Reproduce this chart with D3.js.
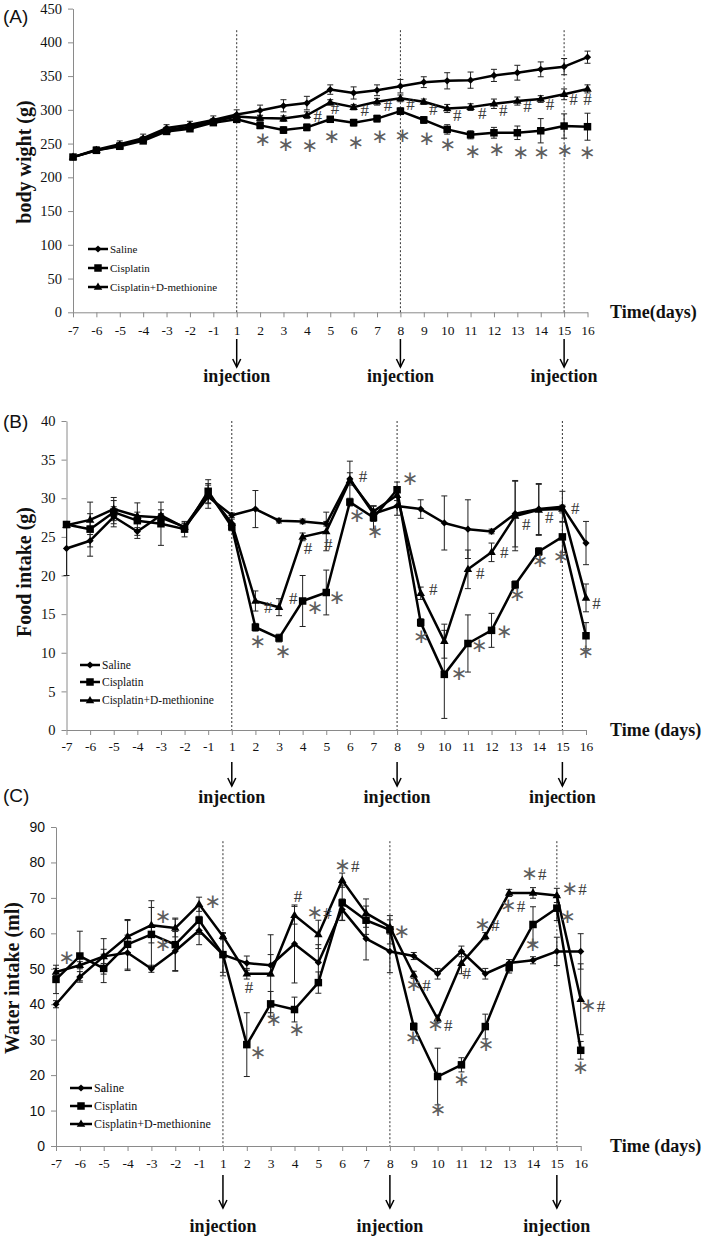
<!DOCTYPE html>
<html><head><meta charset="utf-8">
<script src="https://cdn.jsdelivr.net/npm/d3@7"></script>
<style>body{margin:0;background:#fff}</style>
</head><body>
<svg id="c" width="709" height="1239" xmlns="http://www.w3.org/2000/svg"></svg>
<script>
// ---------- categories ----------
const days = [-7,-6,-5,-4,-3,-2,-1,1,2,3,4,5,6,7,8,9,10,11,12,13,14,15,16];
const injectionDays = [1, 8, 15];
const seriesNames = ["Saline", "Cisplatin", "Cisplatin+D-methionine"];

// ---------- (A) body weight ----------
const weightTicks = [0,50,100,150,200,250,300,350,400,450];
const weightSaline    = [230,241,249,258,273,278,285,293,299,306,310,330,325,329,335,341,343,344,351,355,360,364,378];
const weightCisplatin = [230,240,246,254,268,272,281,286,277,270,274,286,281,287,298,285,271,263,266,266,269,276,275];
const weightCisDmet   = [230,240,247,256,270,275,283,290,288,287,292,311,304,312,317,312,302,304,309,313,316,323,331];
const weightSalineErr    = [3,4,5,6,5,5,6,7,8,9,10,7,9,8,10,8,12,12,9,11,11,12,9];
const weightCisplatinErr = [3,4,4,4,4,4,4,5,5,5,5,4,5,5,5,5,7,6,8,10,18,18,20];
const weightCisDmetErr   = [3,3,4,4,4,4,4,4,4,4,5,4,4,5,5,4,6,5,7,6,5,8,6];
// [day, shift (in category steps), value, label]
const weightMarks = [
  [2,0.12,255,"*"],[3,0.1,248,"*"],[4,0.13,246,"*"],[5,0.07,260,"*"],[6,0.1,251,"*"],
  [7,0.12,260,"*"],[8,0.1,261,"*"],[9,0.13,257,"*"],[10,0.03,248,"*"],[11,0.1,237,"*"],
  [12,0.12,240,"*"],[13,0.15,236,"*"],[14,0.04,236,"*"],[15,0.03,239,"*"],[16,0,236,"*"],
  [4,0.47,291,"#"],[5,0.2,303,"#"],[6,0.47,300,"#"],[7,0.47,307,"#"],[8,0.43,309,"#"],
  [9,0.4,301,"#"],[10,0.43,292,"#"],[11,0.5,295,"#"],[12,0.4,300,"#"],[13,0.43,306,"#"],
  [14,0.4,309,"#"],[15,0.4,316,"#"],[16,0,316,"#"]
];

// ---------- (B) food intake ----------
const foodTicks = [0,5,10,15,20,25,30,35,40];
const foodSaline    = [23.5,24.5,27.6,25.7,27.8,26.2,30.2,27.8,28.6,27.1,27.0,26.7,32.5,28.0,29.0,28.6,26.8,26.0,25.7,28.0,28.6,28.9,24.2];
const foodCisplatin = [26.6,26.0,28.2,27.1,26.7,26.0,30.9,26.3,13.3,11.9,16.7,17.8,29.5,27.5,31.1,13.9,7.2,11.2,12.9,18.8,23.1,25.0,12.2];
const foodCisDmet   = [26.5,27.2,28.6,27.7,27.5,26.3,30.6,26.8,16.7,15.9,25.0,25.7,32.3,28.3,30.4,17.7,11.5,20.8,23.0,27.7,28.5,28.6,17.1];
const foodSalineErr    = [3.5,0.8,1.3,0.5,0.7,0.5,1.5,0.3,2.4,0.3,0.3,0.3,0.8,1.0,1.2,1.2,3.5,3.8,0.3,4.3,3.3,2.0,2.8];
const foodCisplatinErr = [0.3,3.5,1.5,2.3,2.8,1.0,1.5,0.5,0.5,0.5,3.3,2.9,0.5,1.5,1.0,0.5,5.7,3.7,2.2,0.5,0.5,2.0,1.7];
const foodCisDmetErr   = [0.3,0.8,1.5,0.5,0.5,0.5,1.3,0.5,1.3,1.1,0.5,2.5,2.5,0.7,0.7,0.8,2.2,2.5,1.2,4.5,3.3,0.5,1.8];
const foodMarks = [
  [2,0.1,11.3,"*"],[3,0.17,10.1,"*"],[2,0.54,15.9,"#"],[3,0.6,17.0,"#"],[4,0.23,23.5,"#"],
  [5,0.08,24.1,"#"],[4,0.53,15.7,"*"],[5,0.46,17.0,"*"],[6,0.31,27.7,"*"],[6,0.56,32.9,"#"],
  [7,0.07,25.6,"*"],[8,0.55,32.4,"*"],[9,0.53,18.2,"#"],[9,0.03,12.0,"*"],[10,0.63,7.2,"*"],
  [11,0.52,20.3,"#"],[11,0.48,10.8,"*"],[12,0.54,23.0,"#"],[12,0.54,12.6,"*"],[13,0.47,26.6,"#"],
  [13,0.09,17.4,"*"],[14,0.44,27.5,"#"],[14,0.06,21.9,"*"],[15,0.55,28.7,"#"],[15,-0.05,22.3,"*"],
  [16,0.44,16.4,"#"],[16,0,10.1,"*"]
];

// ---------- (C) water intake ----------
const waterTicks = [0,10,20,30,40,50,60,70,80,90];
const waterSaline    = [40,47.7,53.5,54.5,50,55,60.8,54,51.6,51,57,51.8,66.7,58.5,54.9,53.6,48.6,54.9,48.6,51.6,52.4,54.9,54.9];
const waterCisplatin = [47,53.6,50.1,56.9,59.7,56.8,63.7,54,28.6,40.1,38.5,46.1,68.6,63.7,61,33.7,19.6,22.9,33.7,50.3,62.5,67.1,27];
const waterCisDmet   = [49.1,51,53.5,59.1,62.3,61.5,68.2,59.2,48.6,48.6,65.1,59.7,75,65.7,61.8,48.3,35.9,51.6,59.2,71.4,71.4,70.7,41.4];
const waterSalineErr    = [1,1.5,5,5,1,5.5,4,6,2,3,11,5,3,6,6,1,1.5,1.5,1.5,1,1,4,5];
const waterCisplatinErr = [4,7,4,7,9.5,7.5,4,5,9,3.5,3.5,3,5,4,4,1,8,2,3.5,1.5,5,3.5,2.5];
const waterCisDmetErr   = [1,1,2,4.5,5,2.5,2,1,1.5,11,2.5,4,2,4,2,1,1,3,1,1,1.5,2,10];
const waterMarks = [
  [-7,0.46,52.9,"*"],[-3,0.49,64.6,"*"],[-3,0.49,56.6,"*"],[-1,0.58,68.8,"*"],[2,0.09,44.8,"#"],
  [2,0.47,26.1,"*"],[3,0.14,35.4,"*"],[4,0.15,70.5,"#"],[4,0.1,32.6,"*"],[5,0.03,65.7,"*#"],
  [6,0.2,78.9,"*#"],[8,0.5,60.4,"*"],[9,0.18,45.3,"*#"],[9,-0.03,30.3,"*"],[10,0.1,34.0,"*#"],
  [10,0.02,10.0,"*"],[11,0.22,48.8,"#"],[11,0.01,18.5,"*"],[12,0.07,62.3,"*#"],[12,0.03,28.4,"*"],
  [13,0.15,67.6,"*#"],[14,0.04,76.7,"*#"],[14,0,56.6,"*"],[15,0.72,72.5,"*#"],[15,0.45,64.6,"*"],
  [16,0.5,39.4,"*#"],[16,0,21.9,"*"]
];

// ---------- drawing ----------
const svg = d3.select("#c");
const serif = '"Liberation Serif","Times New Roman",serif';
const sans = '"Liberation Sans",Arial,sans-serif';
const axisGray = "#8a8a8a";

function marker(sel, kind, cx, cy) {
  if (kind === 0) {
    const r = 3.6;
    sel.append("path").attr("d", `M${cx},${cy-r}L${cx+r},${cy}L${cx},${cy+r}L${cx-r},${cy}Z`).attr("fill", "#000");
  } else if (kind === 1) {
    const s = 7.5;
    sel.append("rect").attr("x", cx - s/2).attr("y", cy - s/2).attr("width", s).attr("height", s).attr("fill", "#000");
  } else {
    const s = 8.5, h = s * 0.866;
    sel.append("path").attr("d", `M${cx},${cy-h*0.62}L${cx+s/2},${cy+h*0.38}L${cx-s/2},${cy+h*0.38}Z`).attr("fill", "#000");
  }
}

function drawPanel(p) {
  const g = svg.append("g");
  const x = d3.scalePoint().domain(days).range([p.x0, p.x1]);
  const y = d3.scaleLinear().domain([0, p.ymax]).range([p.yb, p.yt]);
  const xp = (d, s) => x(d) + (s || 0) * x.step();

  const ya = g.append("g").attr("transform", `translate(${p.x0},0)`)
    .call(d3.axisLeft(y).tickValues(p.yTicks).tickSize(5).tickPadding(6).tickSizeOuter(0));
  ya.select(".domain").attr("stroke", axisGray);
  ya.selectAll(".tick line").attr("stroke", axisGray);
  ya.selectAll("text").attr("font-family", p.yFont).attr("font-size", p.yFontSize).attr("fill", "#111");

  const xa = g.append("g").attr("transform", `translate(0,${p.yb})`)
    .call(d3.axisBottom(x).tickValues(days).tickSize(5).tickSizeOuter(0));
  xa.select(".domain").attr("stroke", axisGray);
  xa.selectAll(".tick line").attr("stroke", axisGray);
  xa.selectAll("text").attr("font-family", serif).attr("font-size", 13.5).attr("fill", "#111")
    .attr("y", p.xLabelDy).attr("dy", null);

  g.selectAll("line.inj").data(injectionDays).join("line")
    .attr("x1", d => x(d)).attr("x2", d => x(d))
    .attr("y1", y(p.dashTop)).attr("y2", p.yb)
    .attr("stroke", "#333").attr("stroke-width", 1).attr("stroke-dasharray", "2,2");

  p.series.forEach((s) => {
    s.values.forEach((v, i) => {
      const cx = x(days[i]), e = s.err[i];
      const y1 = y(v + e), y2 = y(v - e);
      g.append("line").attr("x1", cx).attr("x2", cx).attr("y1", y1).attr("y2", y2).attr("stroke", "#222").attr("stroke-width", 1);
      [y1, y2].forEach(yy => g.append("line").attr("x1", cx - 3).attr("x2", cx + 3).attr("y1", yy).attr("y2", yy).attr("stroke", "#222").attr("stroke-width", 1));
    });
  });

  const line = d3.line().x((v, i) => x(days[i])).y(v => y(v));
  p.series.forEach(s => {
    g.append("path").attr("d", line(s.values)).attr("fill", "none").attr("stroke", "#000").attr("stroke-width", 2.5).attr("stroke-linejoin", "round");
  });
  p.series.forEach((s, k) => {
    s.values.forEach((v, i) => marker(g, k, x(days[i]), y(v)));
  });

  p.marks.forEach(m => {
    const t = g.append("text").attr("x", xp(m[0], m[1])).attr("y", y(m[2])).attr("dy", "0.36em")
      .attr("text-anchor", "middle");
    m[3].split("").forEach(ch => {
      if (ch === "*") t.append("tspan").attr("font-family", '"DejaVu Sans",sans-serif')
        .attr("font-size", 20).attr("fill", "#5e5e5e").text("\u2217");
      else t.append("tspan").attr("font-family", serif).attr("font-size", 17).attr("fill", "#3a3a3a").text("#");
    });
  });

  seriesNames.forEach((name, k) => {
    const ly = p.legY[k];
    g.append("line").attr("x1", p.legX0).attr("x2", p.legX1).attr("y1", ly).attr("y2", ly).attr("stroke", "#000").attr("stroke-width", 2.5);
    marker(g, k, (p.legX0 + p.legX1) / 2, ly);
    g.append("text").attr("x", p.legX1 + 2).attr("y", ly).attr("dy", "0.33em")
      .attr("font-family", serif).attr("font-size", p.legFont).attr("fill", "#111").text(name);
  });

  g.append("text").attr("transform", `translate(${p.yTitleX},${p.yTitleY}) rotate(-90)`)
    .attr("text-anchor", "middle").attr("dy", "0.35em")
    .attr("font-family", serif).attr("font-weight", "bold").attr("font-size", 20).attr("fill", "#111").text(p.yTitle);

  g.append("text").attr("x", 610).attr("y", p.yb + 6)
    .attr("font-family", serif).attr("font-weight", "bold").attr("font-size", 18).attr("fill", "#111").text(p.xTitle);

  g.append("text").attr("x", 3).attr("y", p.labelY).attr("dy", "0.35em")
    .attr("font-family", sans).attr("font-size", 19).attr("fill", "#111").text(p.label);

  injectionDays.forEach(d => {
    const cx = x(d);
    g.append("line").attr("x1", cx).attr("x2", cx).attr("y1", p.arrowY0).attr("y2", p.arrowY1).attr("stroke", "#000").attr("stroke-width", 1.5);
    g.append("path").attr("d", `M${cx-4},${p.arrowY1-8}L${cx},${p.arrowY1}L${cx+4},${p.arrowY1-8}`).attr("fill", "none").attr("stroke", "#000").attr("stroke-width", 1.5);
    g.append("text").attr("x", cx).attr("y", p.injBase).attr("text-anchor", "middle")
      .attr("font-family", serif).attr("font-weight", "bold").attr("font-size", 18).attr("fill", "#111").text("injection");
  });
}

drawPanel({
  label: "(A)", labelY: 16,
  x0: 73, x1: 587.5, yb: 312.3, yt: 8.6, ymax: 450, yTicks: weightTicks, dashTop: 418,
  yFont: serif, yFontSize: 14.5, xLabelDy: 23,
  series: [
    {values: weightSaline, err: weightSalineErr},
    {values: weightCisplatin, err: weightCisplatinErr},
    {values: weightCisDmet, err: weightCisDmetErr}
  ],
  marks: weightMarks,
  legX0: 88, legX1: 108, legY: [249, 268, 287], legFont: 11,
  yTitle: "body wight (g)", yTitleX: 24, yTitleY: 162,
  xTitle: "Time(days)",
  arrowY0: 339, arrowY1: 367, injBase: 381.5
});

drawPanel({
  label: "(B)", labelY: 421,
  x0: 66.5, x1: 586, yb: 730, yt: 421, ymax: 40, yTicks: foodTicks, dashTop: 40,
  yFont: serif, yFontSize: 14.5, xLabelDy: 21,
  series: [
    {values: foodSaline, err: foodSalineErr},
    {values: foodCisplatin, err: foodCisplatinErr},
    {values: foodCisDmet, err: foodCisDmetErr}
  ],
  marks: foodMarks,
  legX0: 80, legX1: 100, legY: [665, 682, 700.5], legFont: 11.5,
  yTitle: "Food intake (g)", yTitleX: 24, yTitleY: 572,
  xTitle: "Time (days)",
  arrowY0: 762, arrowY1: 786, injBase: 802.5
});

drawPanel({
  label: "(C)", labelY: 795,
  x0: 56, x1: 580.7, yb: 1146, yt: 827, ymax: 90, yTicks: waterTicks, dashTop: 86,
  yFont: sans, yFontSize: 14, xLabelDy: 21.5,
  series: [
    {values: waterSaline, err: waterSalineErr},
    {values: waterCisplatin, err: waterCisplatinErr},
    {values: waterCisDmet, err: waterCisDmetErr}
  ],
  marks: waterMarks,
  legX0: 70, legX1: 92, legY: [1088, 1106, 1124], legFont: 12,
  yTitle: "Water intake (ml)", yTitleX: 12, yTitleY: 978,
  xTitle: "Time (days)",
  arrowY0: 1175, arrowY1: 1208, injBase: 1231.5
});
</script>
</body></html>
